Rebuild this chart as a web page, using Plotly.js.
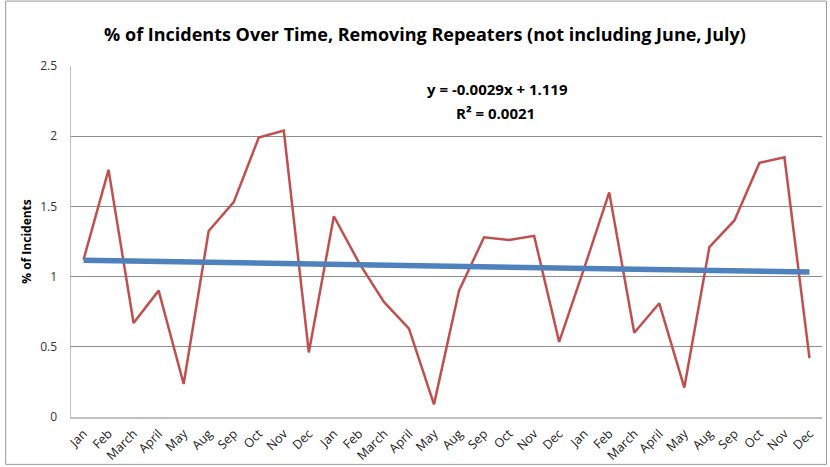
<!DOCTYPE html>
<html>
<head>
<meta charset="utf-8">
<script src="https://cdn.plot.ly/plotly-3.0.1.min.js"></script>
<style>
html,body{margin:0;padding:0;background:#fff;}
#chart{width:830px;height:467px;}
</style>
</head>
<body>
<div id="chart"></div>
<script>
const monthLabels = ["Jan","Feb","March","April","May","Aug","Sep","Oct","Nov","Dec",
  "Jan","Feb","March","April","May","Aug","Sep","Oct","Nov","Dec",
  "Jan","Feb","March","April","May","Aug","Sep","Oct","Nov","Dec"];
const incidentPct = [1.12,1.76,0.67,0.90,0.235,1.325,1.53,1.99,2.04,0.46,
  1.43,1.10,0.82,0.63,0.09,0.90,1.28,1.26,1.29,0.535,
  1.06,1.60,0.60,0.81,0.21,1.21,1.40,1.81,1.85,0.42];
const trendSlope = -0.0029;
const trendIntercept = 1.119;

const xIdx = monthLabels.map((_, i) => i + 1);
const trendY = xIdx.map(x => trendSlope * x + trendIntercept);

const data = [
  {x: xIdx, y: incidentPct, type: 'scatter', mode: 'lines',
   line: {color: '#C0504D', width: 2.5}, hoverinfo: 'y'},
  {x: [xIdx[0], xIdx[xIdx.length-1]], y: [trendY[0], trendY[trendY.length-1]],
   type: 'scatter', mode: 'lines', line: {color: '#4F81BD', width: 5.5}}
];

const layout = {
  width: 830, height: 467,
  margin: {l: 71, r: 8, t: 66, b: 50},
  paper_bgcolor: '#fff', plot_bgcolor: '#fff',
  showlegend: false,
  font: {family: 'Open Sans, sans-serif', color: '#000'},
  title: {text: '<b>% of Incidents Over Time, Removing Repeaters (not including June, July)</b>',
          font: {size: 18, color: '#000'}, x: 0.512, xanchor: 'center', y: 0.925, yanchor: 'middle'},
  xaxis: {range: [0.5, 30.5], tickmode: 'array', tickvals: xIdx, ticktext: monthLabels,
          tickangle: -45, tickfont: {size: 12.5, color: '#222'}, showgrid: false, zeroline: false,
          showline: true, linecolor: '#bfbfbf', linewidth: 1.5, ticks: 'outside', ticklen: 3,
          tickcolor: 'rgba(0,0,0,0)', fixedrange: true},
  yaxis: {range: [0, 2.5], tickvals: [0,0.5,1,1.5,2,2.5], ticktext: ['0','0.5','1','1.5','2','2.5'],
          tickfont: {size: 12, color: '#333'}, showgrid: true, gridcolor: '#8c8c8c', gridwidth: 1,
          zeroline: false, showline: true, linecolor: '#bfbfbf', linewidth: 1.5,
          ticks: '', ticklabelstandoff: 10,
          title: {text: '<b>% of Incidents</b>', font: {size: 12}, standoff: 6}},
  annotations: [
    {text: '<b>y = -0.0029x + 1.119</b>', xref: 'paper', yref: 'paper',
     x: 0.568, y: 0.935, xanchor: 'center', yanchor: 'middle', showarrow: false, font: {size: 15}},
    {text: '<b>R\u00b2 = 0.0021</b>', xref: 'paper', yref: 'paper',
     x: 0.565, y: 0.865, xanchor: 'center', yanchor: 'middle', showarrow: false, font: {size: 15}}
  ],
  shapes: [
    {type: 'rect', xref: 'paper', yref: 'paper', x0: -0.087, x1: 1.006, y0: -0.135, y1: 1.185,
     line: {color: '#9a9a9a', width: 1}, layer: 'below'}
  ]
};

Plotly.newPlot('chart', data, layout, {displayModeBar: false, staticPlot: true});
</script>
</body>
</html>
